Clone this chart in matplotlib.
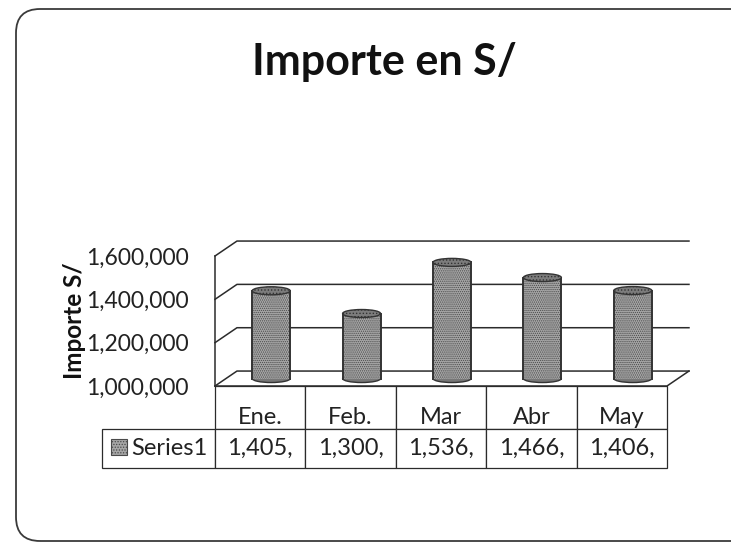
import matplotlib
matplotlib.use("Agg")
import matplotlib.pyplot as plt
from matplotlib.patches import Rectangle, Ellipse, FancyBboxPatch
from matplotlib.ticker import FuncFormatter
from matplotlib.transforms import IdentityTransform

plt.rcParams["font.family"] = ["Lato", "DejaVu Sans"]
plt.rcParams["hatch.linewidth"] = 0.6

months = ["Ene.", "Feb.", "Mar", "Abr", "May"]
importe = [1405000, 1300000, 1536000, 1466000, 1406000]
table_text = ["1,405,", "1,300,", "1,536,", "1,466,", "1,406,"]
y_ticks = [1000000, 1200000, 1400000, 1600000]

line_color = "#2b2b2b"
# depth of the fake 3d box, in data units
depth_x = 0.243
depth_y = 69000
bar_w = 0.42
cap_h = 37000

W, H = 731, 543
fig = plt.figure(figsize=(W / 100, H / 100), dpi=100, facecolor="white")
ax = fig.add_axes([215 / W, (H - 386) / H, 452 / W, 130 / H])
ax.set_xlim(-0.5, 4.5)
ax.set_ylim(1000000, 1600000)
for s in ax.spines.values():
    s.set_visible(False)
ax.patch.set_visible(False)
ax.set_xticks([])
ax.set_yticks(y_ticks)
ax.yaxis.set_major_formatter(FuncFormatter(lambda v, p: f"{int(v):,}"))
ax.tick_params(axis="y", length=0, pad=19, labelsize=16.5, labelcolor="#222222")
ax.set_ylabel("Importe S/", fontsize=17.5, fontweight="bold", color="#111111")
ax.yaxis.set_label_coords(-0.285, 0.5)

# walls and floor
for t in y_ticks:
    ax.plot([-0.5, -0.5 + depth_x, 4.5 + depth_x], [t, t + depth_y, t + depth_y],
            color=line_color, lw=1.1, clip_on=False, zorder=1)
ax.plot([-0.5, -0.5], [1000000, 1600000], color=line_color, lw=1.1, clip_on=False, zorder=1)
ax.plot([-0.5, 4.5, 4.5 + depth_x], [1000000, 1000000, 1000000 + depth_y],
        color=line_color, lw=1.1, clip_on=False, zorder=1)

# cylinders
for i, v in enumerate(importe):
    cx = i + depth_x / 2
    base = 1000000 + depth_y / 2
    top = v + depth_y / 2
    ax.add_patch(Ellipse((cx, base), bar_w, cap_h, facecolor="#777777", edgecolor="#333333",
                         lw=1.0, clip_on=False, zorder=3))
    ax.add_patch(Rectangle((cx - bar_w / 2, base), bar_w, top - base, facecolor="#a6a6a6",
                           edgecolor="#4a4a4a", hatch="........", lw=0, clip_on=False, zorder=4))
    ax.plot([cx - bar_w / 2, cx - bar_w / 2], [base, top], color="#333333", lw=1.4, clip_on=False, zorder=5)
    ax.plot([cx + bar_w / 2, cx + bar_w / 2], [base, top], color="#333333", lw=1.4, clip_on=False, zorder=5)
    ax.add_patch(Ellipse((cx, top), bar_w, cap_h, facecolor="#7c7c7c", edgecolor="#333333",
                         lw=1.0, hatch=".....", clip_on=False, zorder=6))

# data table below the plot, bbox only counts the month columns
tbl = ax.table(cellText=[table_text], colLabels=months, cellLoc="center",
               bbox=[0, -0.63, 1, 0.63])
tbl.auto_set_font_size(False)
# sizes in axes units, table offset goes wrong otherwise
tbl.add_cell(1, -1, width=0.25, height=0.3, text="Series1", loc="right")
for (r, c), cell in tbl.get_celld().items():
    cell.set_edgecolor(line_color)
    cell.set_linewidth(0.9)
    cell.PAD = 0.07
    if c >= 0:
        cell.set_width(0.2)
        cell.set_height(0.33 if r == 0 else 0.3)
    cell.get_text().set_fontsize(17)
    cell.get_text().set_color("#222222")
    if r == 0:
        # month labels sit low in their row
        cell.get_text().set_va("top")

# legend key in the table
ax.add_patch(Rectangle((-0.5 - 104 / 90.4, 1000000 - 69 / 130 * 600000), 16 / 90.4, 16 / 130 * 600000,
                       facecolor="#a6a6a6", edgecolor="#4a4a4a", hatch="......", lw=0.8,
                       clip_on=False, zorder=8))

fig.text(384 / W, (H - 62) / H, "Importe en S/", fontsize=31, fontweight="bold",
         ha="center", va="center", color="#111111")

# rounded frame, runs off the page at the right and bottom
fig.add_artist(FancyBboxPatch((38, 24), 720, 488, boxstyle="round,pad=22,rounding_size=24",
                              transform=IdentityTransform(), facecolor="none",
                              edgecolor="#3a3a3a", lw=1.3, zorder=0))

fig.savefig("out.png", dpi=100, facecolor="white")
